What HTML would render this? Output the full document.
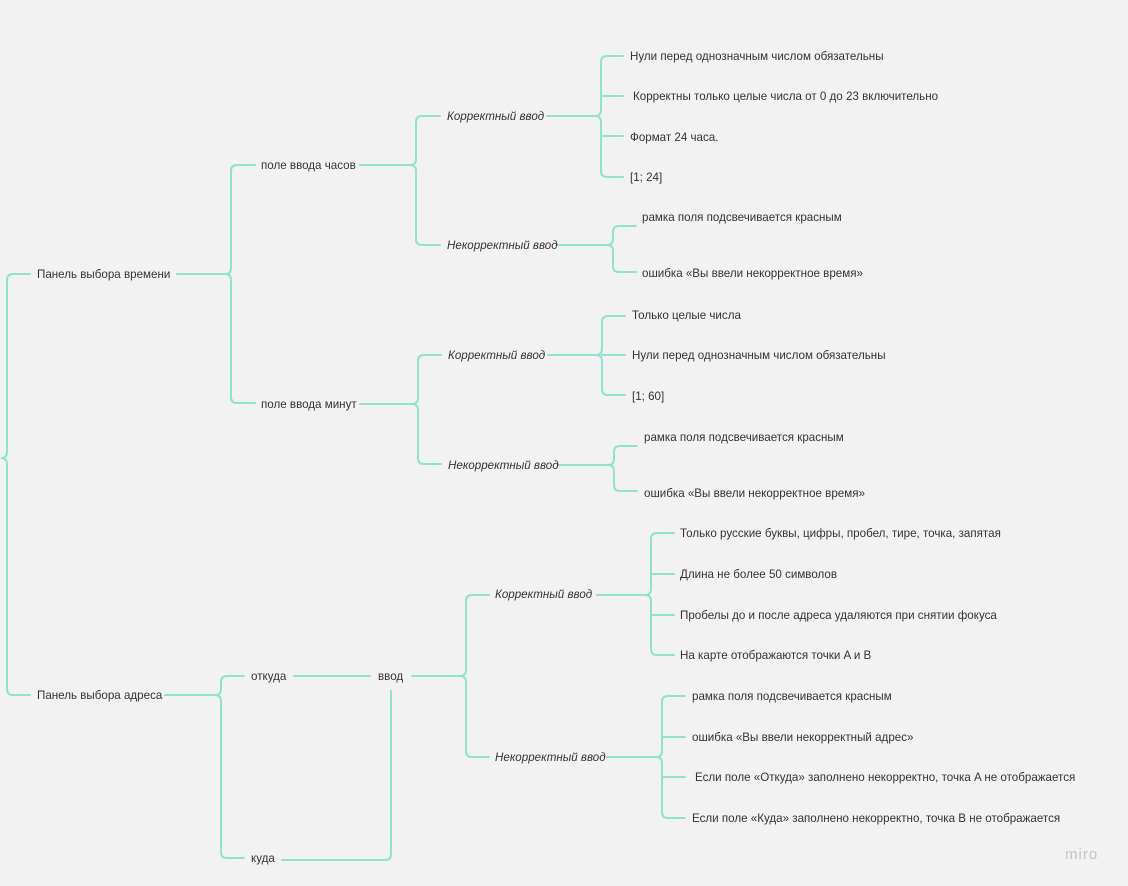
<!DOCTYPE html>
<html><head><meta charset="utf-8"><style>
html,body{margin:0;padding:0;background:#f2f2f2;}
svg{display:block;}
text{font-family:"Liberation Sans","DejaVu Sans",sans-serif;font-size:11.6px;fill:#333;dominant-baseline:middle;}
.i{font-style:italic;}
path{fill:none;stroke:#8fe3cf;stroke-width:2;stroke-linecap:round;}
</style></head><body>
<svg width="1128" height="886" viewBox="0 0 1128 886">
<rect width="1128" height="886" fill="#f2f2f2"/>
<g transform="translate(0,0)">
<!-- root -->
<path d="M30,274 H13 Q7,274 7,280 V452 Q7,458 1,458 Q7,458 7,464 V689 Q7,695 13,695 H30"/>
<!-- time panel -->
<path d="M177,274 H225 Q231,274 231,268 V171 Q231,165 237,165 H255 M231,280 V397 Q231,403 237,403 H255 M225,274 Q231,274 231,280"/>
<!-- hours -->
<path d="M360,165 H410 Q416,165 416,159 V122 Q416,116 422,116 H440 M410,165 Q416,165 416,171 V239 Q416,245 422,245 H440"/>
<path d="M547,116 H595 Q601,116 601,110 V62 Q601,56 607,56 H623 M601,96 H623 M595,116 Q601,116 601,122 V171 Q601,177 607,177 H623 M601,136 H623"/>
<path d="M557,245 H607 Q613,245 613,239 V232 Q613,226 619,226 H636 M607,245 Q613,245 613,251 V266 Q613,272 619,272 H636"/>
<!-- minutes -->
<path d="M360,404 H412 Q418,404 418,398 V361 Q418,355 424,355 H441 M412,404 Q418,404 418,410 V458 Q418,464 424,464 H441"/>
<path d="M548,355 H596 Q602,355 602,349 V322 Q602,316 608,316 H625 M596,355 Q602,355 602,361 V389 Q602,395 608,395 H625 M602,355 H625"/>
<path d="M558,465 H608 Q614,465 614,459 V452 Q614,446 620,446 H637 M608,465 Q614,465 614,471 V485 Q614,491 620,491 H637"/>
<!-- address -->
<path d="M165,695 H215 Q221,695 221,689 V682 Q221,676 227,676 H244 M215,695 Q221,695 221,701 V852 Q221,858 227,858 H244"/>
<path d="M294,676 H370"/>
<path d="M391,691 V854 Q391,860 385,860 H282"/>
<path d="M412,676 H460 Q466,676 466,670 V601 Q466,595 472,595 H489 M460,676 Q466,676 466,682 V751 Q466,757 472,757 H489"/>
<path d="M597,595 H645 Q651,595 651,589 V539 Q651,533 657,533 H674 M651,574 H674 M645,595 Q651,595 651,601 V649 Q651,655 657,655 H674 M651,615 H674"/>
<path d="M607,757 H656 Q662,757 662,751 V702 Q662,696 668,696 H685 M662,737 H685 M656,757 Q662,757 662,763 V812 Q662,818 668,818 H685 M662,777 H685"/>
</g>
<g transform="translate(0,1)">
<text x="37" y="274">Панель выбора времени</text>
<text x="37" y="695">Панель выбора адреса</text>
<text x="261" y="165">поле ввода часов</text>
<text x="261" y="404">поле ввода минут</text>
<text class="i" x="447" y="116">Корректный ввод</text>
<text class="i" x="447" y="245">Некорректный ввод</text>
<text x="630" y="56">Нули перед однозначным числом обязательны</text>
<text x="633" y="96">Корректны только целые числа от 0 до 23 включительно</text>
<text x="630" y="137">Формат 24 часа.</text>
<text x="630" y="177">[1; 24]</text>
<text x="642" y="217">рамка поля подсвечивается красным</text>
<text x="642" y="273">ошибка «Вы ввели некорректное время»</text>
<text class="i" x="448" y="355">Корректный ввод</text>
<text class="i" x="448" y="465">Некорректный ввод</text>
<text x="632" y="315">Только целые числа</text>
<text x="632" y="355">Нули перед однозначным числом обязательны</text>
<text x="632" y="396">[1; 60]</text>
<text x="644" y="437">рамка поля подсвечивается красным</text>
<text x="644" y="493">ошибка «Вы ввели некорректное время»</text>
<text x="251" y="676">откуда</text>
<text x="251" y="858">куда</text>
<text x="378" y="676">ввод</text>
<text class="i" x="495" y="594">Корректный ввод</text>
<text class="i" x="495" y="757">Некорректный ввод</text>
<text x="680" y="533">Только русские буквы, цифры, пробел, тире, точка, запятая</text>
<text x="680" y="574">Длина не более 50 символов</text>
<text x="680" y="615">Пробелы до и после адреса удаляются при снятии фокуса</text>
<text x="680" y="655">На карте отображаются точки A и B</text>
<text x="692" y="696">рамка поля подсвечивается красным</text>
<text x="692" y="737">ошибка «Вы ввели некорректный адрес»</text>
<text x="695" y="777">Если поле «Откуда» заполнено некорректно, точка A не отображается</text>
<text x="692" y="818">Если поле «Куда» заполнено некорректно, точка B не отображается</text>
<text x="1065" y="854" style="font-size:15px;fill:#c4c4c4;letter-spacing:1px">miro</text>
</g>
</svg>
</body></html>
